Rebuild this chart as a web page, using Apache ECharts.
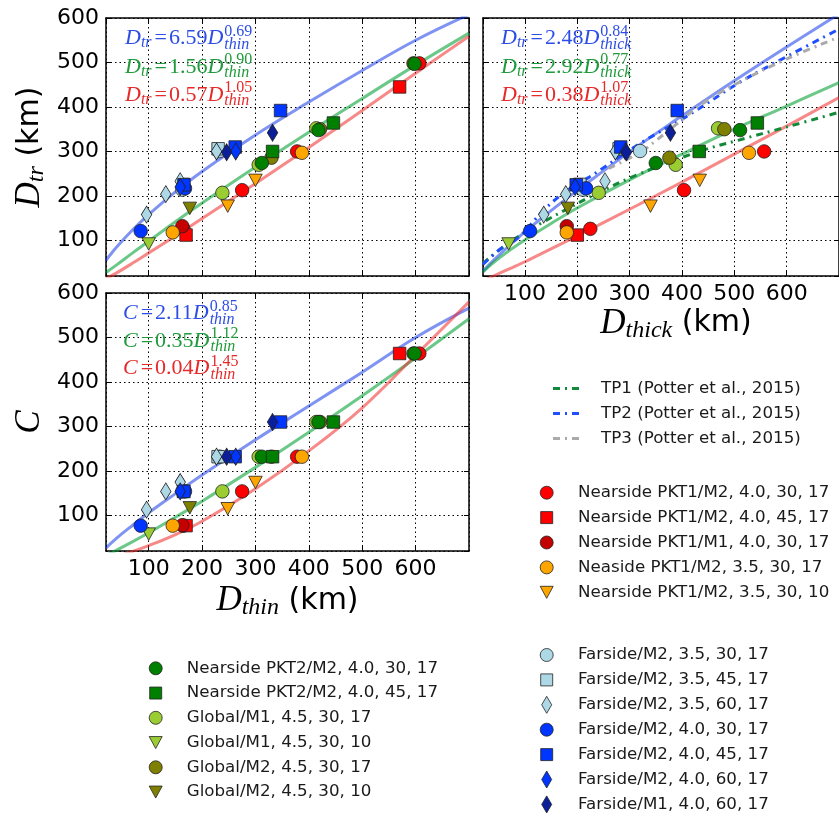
<!DOCTYPE html>
<html><head><meta charset="utf-8">
<script src="https://cdn.jsdelivr.net/npm/echarts@6/dist/echarts.min.js"></script>
<style>html,body{margin:0;padding:0;background:#fff}#c{width:839px;height:820px}</style>
</head><body><div id="c"></div>
<script>
// ---------------- data ----------------
const SERIES_NAMES = [
  'Nearside PKT1/M2, 4.0, 30, 17', 'Nearside PKT1/M2, 4.0, 45, 17', 'Nearside PKT1/M1, 4.0, 30, 17',
  'Neaside PKT1/M2, 3.5, 30, 17', 'Nearside PKT1/M2, 3.5, 30, 10',
  'Nearside PKT2/M2, 4.0, 30, 17', 'Nearside PKT2/M2, 4.0, 45, 17',
  'Global/M1, 4.5, 30, 17', 'Global/M1, 4.5, 30, 10', 'Global/M2, 4.5, 30, 17', 'Global/M2, 4.5, 30, 10',
  'Farside/M2, 3.5, 30, 17', 'Farside/M2, 3.5, 45, 17', 'Farside/M2, 3.5, 60, 17',
  'Farside/M2, 4.0, 30, 17', 'Farside/M2, 4.0, 45, 17', 'Farside/M2, 4.0, 60, 17', 'Farside/M1, 4.0, 60, 17'
];
const SERIES_COLORS = ['#ff0000','#ff0000','#c40000','#ffa500','#ffa500','#008000','#008000',
  '#9acd32','#9acd32','#808000','#808000','#add8e6','#add8e6','#add8e6','#0036ff','#0036ff','#0036ff','#0b1f9a'];
const SERIES_SHAPES = ['circle','square','circle','circle','tri','circle','square','circle','tri','circle','tri',
  'circle','square','diamond','circle','square','diamond','diamond'];

// per series values (same simulation across the three panels)
const D_THIN  = [[165,275,378,607],[170,570],[163],[145,387],[248,300],[312,418,598],[332,446],
  [238,306,414],[100],[330,421,596],[177],[163,233],[165,230],[96,132,159,227],[85,168],[166,262,347],[159,263],[246,332]];
const D_THICK = [[225,404,557,null],[200,null],[180],[180,528],[340,434],[350,511,null],[433,544],
  [241,388,469],[69],[376,481,null],[182],[211,320],[205,280],[136,178,253,273],[110,217],[198,283,391],[196,292],[294,378]];
const D_TR    = [[126,213,300,498],[112,445],[132],[118,297],[177,235],[274,348,497],[300,364],
  [207,270,352],[92],[286,350,498],[172],[214,301],[226,306],[158,204,233,300],[121,217],[225,310,392],[220,300],[298,342]];
const C_VAL   = [[77,154,232,464],[77,464],[78],[77,232],[115,174],[232,310,464],[232,310],
  [154,232,310],[58],[232,310,464],[117],[154,232],[154,232],[113,154,175,232],[77,154],[154,232,310],[154,232],[232,310]];
const PLOT_ORDER = [7,8,9,10,0,1,2,3,4,5,6,11,12,13,14,15,16,17];

// fitted curves
const FIT_X    = [20, 40, 70, 100, 150, 200, 300, 400, 500, 600, 700];
const TL_BLUE  = [55, 85, 124, 158, 209, 255, 337, 411, 482, 550, 608];
const TL_GREEN = [28, 45, 72, 98, 142, 184, 265, 343, 419, 494, 566];
const TL_RED   = [14, 27, 49, 72, 110, 149, 228, 309, 392, 476, 559];
const TR_BLUE  = [31, 55, 88, 119, 167, 212, 299, 380, 459, 535, 609];
const TR_GREEN = [29, 50, 77, 101, 138, 173, 236, 294, 350, 402, 455];
const TR_RED   = [9, 20, 36, 52, 81, 110, 170, 231, 294, 357, 421];
const BL_BLUE  = [27, 49, 78, 106, 149, 191, 270, 346, 422, 500, 566];
const BL_GREEN = [10, 22, 41, 61, 96, 132, 208, 287, 369, 454, 542];
const BL_RED   = [3, 8, 19, 32, 57, 87, 160, 245, 342, 460, 580];

// Potter et al. (2015) curves
const TP1_X = [20, 70, 133, 183, 233, 320, 433, 507, 600, 700];
const TP1_Y = [48, 95, 140, 172, 203, 250, 300, 325, 355, 388];
const TP2_X = [20, 50, 89, 136, 177, 224, 320, 408, 507, 576, 700];
const TP2_Y = [46, 78, 108, 168, 209, 243, 318, 378, 453, 498, 575];
const TP3_X = [260, 320, 351, 385, 445, 520, 600, 700];
const TP3_Y = [262, 298, 325, 357, 412, 462, 508, 557];
const TP_NAMES = ['TP1 (Potter et al., 2015)', 'TP2 (Potter et al., 2015)', 'TP3 (Potter et al., 2015)'];
const TP_COLORS = ['#138a3a', '#1f4fff', '#aaaaaa'];

// fit labels
const TL_COEF = ['6.59','1.56','0.57'], TL_EXP = ['0.69','0.90','1.05'];
const TR_COEF = ['2.48','2.92','0.38'], TR_EXP = ['0.84','0.77','1.07'];
const BL_COEF = ['2.11','0.35','0.04'], BL_EXP = ['0.85','1.12','1.45'];
const FIT_TEXT_COLORS = ['#2d4ee6', '#1f9a3c', '#e62a2a'];
const FIT_LINE_COLORS = ['rgba(0,40,230,0.5)', 'rgba(0,160,50,0.58)', 'rgba(240,40,40,0.55)'];

// ---------------- helpers ----------------
const SERIF = '"Liberation Serif", "DejaVu Serif", serif';
const SANS = '"DejaVu Sans", sans-serif';
const mctx = document.createElement('canvas').getContext('2d');
function tw(t, font) { mctx.font = font; return mctx.measureText(t).width; }
function pts(xs, ys) { const o = []; xs.forEach((x, i) => { if (x != null && ys[i] != null) o.push([x, ys[i]]); }); return o; }

const GRIDS = [
  {left: 106, top: 18, width: 363, height: 258},
  {left: 483, top: 18, width: 363, height: 258},
  {left: 106, top: 293, width: 363, height: 258}
];
const nameRich = {
  d: {fontFamily: SERIF, fontStyle: 'italic', fontSize: 35, lineHeight: 38, verticalAlign: 'middle', color: '#000'},
  s: {fontFamily: SERIF, fontStyle: 'italic', fontSize: 24, lineHeight: 19, verticalAlign: 'bottom', color: '#000'},
  u: {fontFamily: SANS, fontSize: 30, lineHeight: 38, verticalAlign: 'middle', color: '#000'}
};
const dotted = {show: true, lineStyle: {color: '#000', type: [1.5, 3], width: 1}};
const lineBlack = {show: true, onZero: false, lineStyle: {color: '#000', width: 1.5}};
const tickIn = {show: true, inside: true, length: 5, lineStyle: {color: '#000', width: 1}};

function xAxes(g, showLabels, name, gap, pad) {
  return [{
    gridIndex: g, type: 'value', min: 20, max: 700, splitNumber: 7, position: 'bottom',
    axisLine: lineBlack, axisTick: tickIn, splitLine: dotted,
    axisLabel: {show: showLabels, fontSize: 22, fontFamily: SANS, color: '#000', margin: 7, showMinLabel: false, showMaxLabel: false},
    name: name || '', nameLocation: 'middle', nameGap: gap || 0,
    nameTextStyle: {rich: nameRich, padding: pad || 0}
  }, {
    gridIndex: g, type: 'value', min: 20, max: 700, splitNumber: 7, position: 'top',
    axisLine: lineBlack, axisTick: tickIn, splitLine: {show: false}, axisLabel: {show: false}
  }];
}
function yAxes(g, showLabels, name, gap) {
  return [{
    gridIndex: g, type: 'value', min: 20, max: 600, splitNumber: 6, position: 'left',
    axisLine: lineBlack, axisTick: tickIn, splitLine: dotted,
    axisLabel: {show: showLabels, fontSize: 22, fontFamily: SANS, color: '#000', margin: 7, showMinLabel: false, showMaxLabel: true},
    name: name || '', nameLocation: 'middle', nameRotate: 90, nameGap: gap || 0,
    nameTextStyle: {rich: nameRich}
  }, {
    gridIndex: g, type: 'value', min: 20, max: 600, splitNumber: 6, position: 'right',
    axisLine: lineBlack, axisTick: tickIn, splitLine: {show: false}, axisLabel: {show: false}
  }];
}

const xAxis = [].concat(
  xAxes(0, false),
  xAxes(1, true, '{d|D}{s|thick}{u| (km)}', 28, [0, 0, 0, 30]),
  xAxes(2, true, '{d|D}{s|thin}{u| (km)}', 31)
);
const yAxis = [].concat(
  yAxes(0, true, '{d|D}{s|tr}{u| (km)}', 57),
  yAxes(1, false),
  yAxes(2, true, '{d|C}', 57)
);

const symbolOf = {
  circle: {symbol: 'circle', symbolSize: 13.5, symbolRotate: 0},
  square: {symbol: 'rect', symbolSize: 12.5, symbolRotate: 0},
  diamond: {symbol: 'diamond', symbolSize: [10.5, 17], symbolRotate: 0},
  tri: {symbol: 'triangle', symbolSize: [13.5, 12.5], symbolRotate: 180}
};

const series = [];
function fitLine(g, ys, color) {
  series.push({type: 'line', xAxisIndex: 2 * g, yAxisIndex: 2 * g, data: pts(FIT_X, ys), smooth: 0.4,
    showSymbol: false, symbol: 'none', z: 2, lineStyle: {color, width: 3}, silent: true});
}
[TL_BLUE, TL_GREEN, TL_RED].forEach((ys, i) => fitLine(0, ys, FIT_LINE_COLORS[i]));
[TR_BLUE, TR_GREEN, TR_RED].forEach((ys, i) => fitLine(1, ys, FIT_LINE_COLORS[i]));
[BL_BLUE, BL_GREEN, BL_RED].forEach((ys, i) => fitLine(2, ys, FIT_LINE_COLORS[i]));
[[TP1_X, TP1_Y], [TP2_X, TP2_Y], [TP3_X, TP3_Y]].forEach((xy, i) => {
  series.push({type: 'line', name: TP_NAMES[i], xAxisIndex: 2, yAxisIndex: 2, data: pts(xy[0], xy[1]), smooth: 0.4,
    showSymbol: false, symbol: 'none', z: 2, silent: true,
    lineStyle: {color: TP_COLORS[i], width: 3, type: [7, 5, 2, 5]}});
});

const PANEL_XY = [[D_THIN, D_TR], [D_THICK, D_TR], [D_THIN, C_VAL]];
PANEL_XY.forEach((xy, g) => {
  PLOT_ORDER.forEach(s => {
    const sym = symbolOf[SERIES_SHAPES[s]];
    series.push({type: 'scatter', name: SERIES_NAMES[s], xAxisIndex: 2 * g, yAxisIndex: 2 * g,
      data: pts(xy[0][s], xy[1][s]), symbol: sym.symbol, symbolSize: sym.symbolSize, symbolRotate: sym.symbolRotate,
      z: 3, itemStyle: {color: SERIES_COLORS[s], borderColor: '#222', borderWidth: 0.8, opacity: 1}});
  });
});

// ---------------- graphics: fit labels & legends ----------------
const graphics = [];
const F_MAIN = 22, F_SMALL = 16;
function formula(x, y, lhs, lhsSub, coef, varSub, exp, color) {
  const rich = {
    d: {fontFamily: SERIF, fontStyle: 'italic', fontSize: F_MAIN, lineHeight: 25, verticalAlign: 'middle', fill: color},
    s: {fontFamily: SERIF, fontStyle: 'italic', fontSize: F_SMALL, lineHeight: 13, verticalAlign: 'bottom', fill: color},
    e: {fontFamily: SERIF, fontSize: F_MAIN, lineHeight: 25, verticalAlign: 'middle', padding: [0, 2, 0, 3], fill: color},
    n: {fontFamily: SERIF, fontSize: F_MAIN, lineHeight: 25, verticalAlign: 'middle', fill: color}
  };
  const text = '{d|' + lhs + '}' + (lhsSub ? '{s|' + lhsSub + '}' : '') + '{e|=}{n|' + coef + '}{d|D}';
  const w = tw(lhs, 'italic ' + F_MAIN + 'px ' + SERIF) + (lhsSub ? tw(lhsSub, 'italic ' + F_SMALL + 'px ' + SERIF) : 0)
    + 5 + tw('=', F_MAIN + 'px ' + SERIF) + tw(coef, F_MAIN + 'px ' + SERIF) + tw('D', 'italic ' + F_MAIN + 'px ' + SERIF);
  graphics.push({type: 'text', x, y, z: 50, style: {text, rich, fill: color, verticalAlign: 'middle', align: 'left'}});
  graphics.push({type: 'text', x: x + w + 1, y: y - 7, z: 50, style: {text: exp, font: F_SMALL + 'px ' + SERIF, fill: color, verticalAlign: 'middle', align: 'left'}});
  graphics.push({type: 'text', x: x + w + 1, y: y + 6, z: 50, style: {text: varSub, font: 'italic ' + F_SMALL + 'px ' + SERIF, fill: color, verticalAlign: 'middle', align: 'left'}});
}
[0, 1, 2].forEach(i => {
  formula(125, 38.5 + i * 28.3, 'D', 'tr', TL_COEF[i], 'thin', TL_EXP[i], FIT_TEXT_COLORS[i]);
  formula(501, 38.5 + i * 28.3, 'D', 'tr', TR_COEF[i], 'thick', TR_EXP[i], FIT_TEXT_COLORS[i]);
  formula(123, 313.5 + i * 27.5, 'C', '', BL_COEF[i], 'thin', BL_EXP[i], FIT_TEXT_COLORS[i]);
});

function legendSymbol(shape, cx, cy, color) {
  const st = {fill: color, stroke: '#222', lineWidth: 0.8};
  if (shape === 'circle') return {type: 'circle', shape: {cx, cy, r: 6.5}, style: st};
  if (shape === 'square') return {type: 'rect', shape: {x: cx - 6, y: cy - 6, width: 12, height: 12}, style: st};
  if (shape === 'diamond') return {type: 'polygon', shape: {points: [[cx, cy - 8.5], [cx + 5, cy], [cx, cy + 8.5], [cx - 5, cy]]}, style: st};
  return {type: 'polygon', shape: {points: [[cx - 6.5, cy - 6], [cx + 6.5, cy - 6], [cx, cy + 6]]}, style: st};
}
const legendText = (x, y, t) => ({type: 'text', x, y, style: {text: t, font: '16.7px ' + SANS, fill: '#1a1a1a', verticalAlign: 'middle', align: 'left'}});

TP_NAMES.forEach((n, i) => {
  const y = 388.5 + i * 25;
  graphics.push({type: 'line', shape: {x1: 553, y1: y, x2: 580, y2: y}, style: {stroke: TP_COLORS[i], lineWidth: 3, lineDash: [7, 5, 2, 5]}});
  graphics.push(legendText(601, y, n));
});
const LEGEND_GROUPS = [
  {items: [0, 1, 2, 3, 4], cx: 546.7, tx: 578, y0: 492.7, dy: 24.9},
  {items: [5, 6, 7, 8, 9, 10], cx: 155.7, tx: 186.7, y0: 668.3, dy: 24.75},
  {items: [11, 12, 13, 14, 15, 16, 17], cx: 546.7, tx: 578, y0: 655, dy: 24.9}
];
LEGEND_GROUPS.forEach(gr => {
  gr.items.forEach((s, k) => {
    const y = gr.y0 + k * gr.dy;
    graphics.push(legendSymbol(SERIES_SHAPES[s], gr.cx, y, SERIES_COLORS[s]));
    graphics.push(legendText(gr.tx, y, SERIES_NAMES[s]));
  });
});

const chart = echarts.init(document.getElementById('c'), null, {renderer: 'canvas'});
chart.setOption({
  animation: false,
  backgroundColor: '#fff',
  grid: GRIDS.map(g => Object.assign({containLabel: false}, g)),
  xAxis, yAxis, series,
  graphic: graphics
});
</script></body></html>
